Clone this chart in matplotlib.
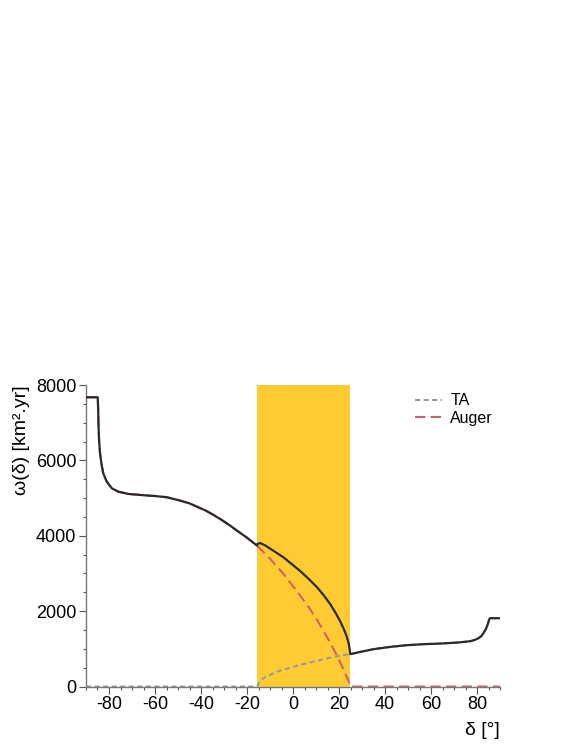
import numpy as np
import matplotlib
matplotlib.use("Agg")
import matplotlib.pyplot as plt

plt.rcParams['font.family'] = ['Liberation Sans', 'DejaVu Sans']
plt.rcParams['axes.unicode_minus'] = False

# Exposure curves (declination in deg, omega in km^2.yr)
# southern part: only Auger sees it
dec_south = [-90, -84.9, -84.7, -84.55, -84.3, -83.9, -83.2, -82.5, -81.0, -78.8, -76.0,
             -71.6, -65.1, -60, -54.9, -49.1, -45, -41.9, -38, -34.6, -31, -27.4, -24,
             -20.1, -15.7]
omega_south = [7675, 7675, 7350, 6900, 6520, 6190, 5881, 5660, 5438, 5262, 5172,
               5111, 5077, 5055, 5023, 4934, 4860, 4775, 4670, 4554, 4420, 4271, 4120,
               3952, 3740]

# overlap band (both observatories)
dec_total_band = [-15.7, -15.5, -14.3, -12, -9.5, -4.2, 0, 3.0, 6.7, 10.3, 13.2, 16.1,
                  18.3, 20.4, 22.2, 23.3, 24.2, 24.6, 24.8]
omega_total_band = [3740, 3785, 3808, 3740, 3640, 3430, 3220, 3070, 2860, 2640, 2430, 2190,
                    1970, 1740, 1500, 1330, 1130, 980, 860]

dec_auger_band = [-15.7, -10, -4.2, 0, 3.0, 6.7, 10.3, 13.2, 16.1, 18.3, 20.4, 22.2,
                  23.3, 24.4, 24.8]
omega_auger_band = [3740, 3390, 2990, 2660, 2420, 2110, 1780, 1480, 1160, 910, 650, 410,
                    260, 100, 0]

dec_ta_band = [-15.7, -14.5, -12.9, -7.1, 3.0, 13.2, 21.9, 24.8]
omega_ta_band = [0, 130, 222, 398, 575, 726, 840, 860]

# northern part: only TA sees it
dec_north = [24.8, 30, 34.9, 42.2, 49.4, 56.7, 63.9, 71.2, 75, 77, 79, 80.6, 81.8, 82.7,
             83.7, 84.5, 85.1, 85.5, 90]
omega_north = [860, 930, 992, 1053, 1098, 1125, 1141, 1167, 1190, 1204, 1240, 1284, 1340,
               1416, 1520, 1637, 1760, 1814, 1814]

band_lo, band_hi = -15.7, 24.8

# assemble series
ta_dec = [-90] + dec_ta_band + dec_north[1:]
ta_omega = [0] + omega_ta_band + omega_north[1:]
auger_dec = dec_south + dec_auger_band[1:] + [90]
auger_omega = omega_south + omega_auger_band[1:] + [0]
tot_dec = dec_south + dec_total_band[1:] + dec_north[1:]
tot_omega = omega_south + omega_total_band[1:] + omega_north[1:]

fig = plt.figure(figsize=(5.81, 7.52), dpi=100)
ax = fig.add_axes([0.148, 0.087, 0.713, 0.401])

ax.axvspan(band_lo, band_hi, color='#ffcb32', lw=0, zorder=0)

ax.plot(ta_dec, ta_omega, color='#999999', lw=1.5, dashes=(2.5, 1.6), label='TA', zorder=2)
ax.plot(auger_dec, auger_omega, color='#d0606a', lw=1.5, dashes=(5, 2.5), label='Auger', zorder=2)
ax.plot(tot_dec, tot_omega, color='#2b2b2b', lw=1.6, zorder=3, solid_joinstyle='round')

ax.set_xlim(-90, 90)
ax.set_ylim(0, 8000)
ax.set_xticks(np.arange(-80, 81, 20))
ax.set_xticks(np.arange(-90, 91, 5), minor=True)
ax.set_yticks(np.arange(0, 8001, 2000))
ax.set_yticks(np.arange(0, 8001, 500), minor=True)

for s in ['top', 'right']:
    ax.spines[s].set_visible(False)
for s in ['left', 'bottom']:
    ax.spines[s].set_color('#777777')
    ax.spines[s].set_linewidth(1.0)

ax.tick_params(which='major', direction='out', length=5, width=0.8, color='#555555',
               labelsize=13, pad=2)
ax.tick_params(which='minor', direction='out', length=2.5, width=0.8, color='#555555')

ax.set_xlabel('δ [°]', fontsize=14, loc='right', labelpad=6)
ax.set_ylabel('ω(δ) [km².yr]', fontsize=14, loc='top', labelpad=4)

ax.legend(loc='upper left', bbox_to_anchor=(0.76, 1.02), frameon=False, fontsize=11.5,
          handlelength=1.7, handletextpad=0.5, labelspacing=0.15)

fig.savefig('out.png', dpi=100)
